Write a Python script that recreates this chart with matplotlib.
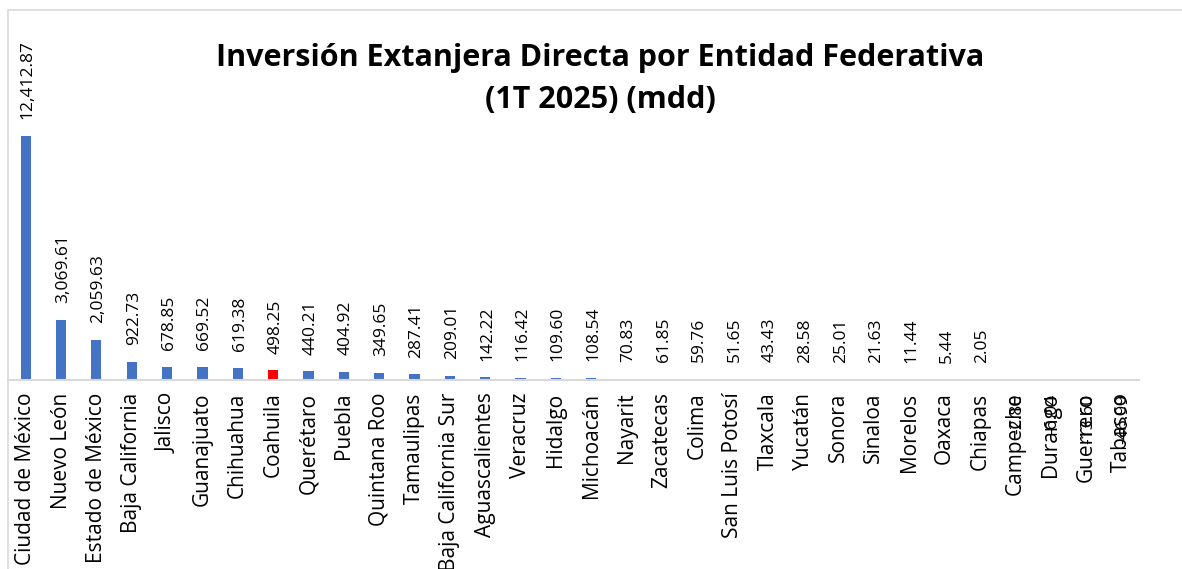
import matplotlib

matplotlib.use("Agg")
import matplotlib.pyplot as plt
from matplotlib.patches import Rectangle

plt.rcParams["font.family"] = ["Open Sans", "DejaVu Sans"]

estados = [
    "Ciudad de México", "Nuevo León", "Estado de México", "Baja California",
    "Jalisco", "Guanajuato", "Chihuahua", "Coahuila", "Querétaro", "Puebla",
    "Quintana Roo", "Tamaulipas", "Baja California Sur", "Aguascalientes",
    "Veracruz", "Hidalgo", "Michoacán", "Nayarit", "Zacatecas", "Colima",
    "San Luis Potosí", "Tlaxcala", "Yucatán", "Sonora", "Sinaloa", "Morelos",
    "Oaxaca", "Chiapas", "Campeche", "Durango", "Guerrero", "Tabasco",
]
ied_mdd = [
    12412.87, 3069.61, 2059.63, 922.73, 678.85, 669.52, 619.38, 498.25,
    440.21, 404.92, 349.65, 287.41, 209.01, 142.22, 116.42, 109.60,
    108.54, 70.83, 61.85, 59.76, 51.65, 43.43, 28.58, 25.01,
    21.63, 11.44, 5.44, 2.05, -2.80, -6.04, -13.60, -46.99,
]
resaltado = "Coahuila"

BLUE = "#4472C4"
RED = "#FF0000"

W, H = 1182, 569
fig = plt.figure(figsize=(W / 100, H / 100), dpi=100)

# chart frame
fig.patches.append(Rectangle((8 / W, -0.01), 1.0, 1 - 10 / H + 0.01,
                             transform=fig.transFigure, fill=False,
                             edgecolor="#d9d9d9", linewidth=1.2))

ax_bottom = 1 - 380 / H
ax_top = 1 - 20 / H
ax = fig.add_axes([8 / W, ax_bottom, 1131 / W, ax_top - ax_bottom])
ax.set_facecolor("none")

x = list(range(len(estados)))
colors = [RED if e == resaltado else BLUE for e in estados]
ax.bar(x, ied_mdd, width=0.29, color=colors)

ymax = max(ied_mdd) * (360 / 244)
ax.set_ylim(0, ymax)
ax.set_xlim(-0.5, len(estados) - 0.5)
ax.axhline(0, color="#d9d9d9", linewidth=1.5, clip_on=False)

for xi, v in zip(x, ied_mdd):
    if v >= 0:
        ax.annotate(f"{v:,.2f}", (xi, v), xytext=(1.5, 12), textcoords="offset points",
                    rotation=90, ha="center", va="bottom", fontsize=12.5,
                    annotation_clip=False)
    else:
        ax.annotate(f"{v:,.2f}", (xi, 0), xytext=(1.5, -10), textcoords="offset points",
                    rotation=90, ha="center", va="top", fontsize=12.5,
                    annotation_clip=False)

ax.set_xticks(x)
ax.set_xticklabels(estados, rotation=90, fontsize=15)
ax.tick_params(axis="x", length=0, pad=9)
ax.set_yticks([])
for s in ax.spines.values():
    s.set_visible(False)

fig.text(0.508, 1 - 79 / H, "Inversión Extanjera Directa por Entidad Federativa\n(1T 2025) (mdd)",
         ha="center", va="center", fontsize=22, fontweight="bold", linespacing=1.48)

fig.savefig("out.png", dpi=100)
